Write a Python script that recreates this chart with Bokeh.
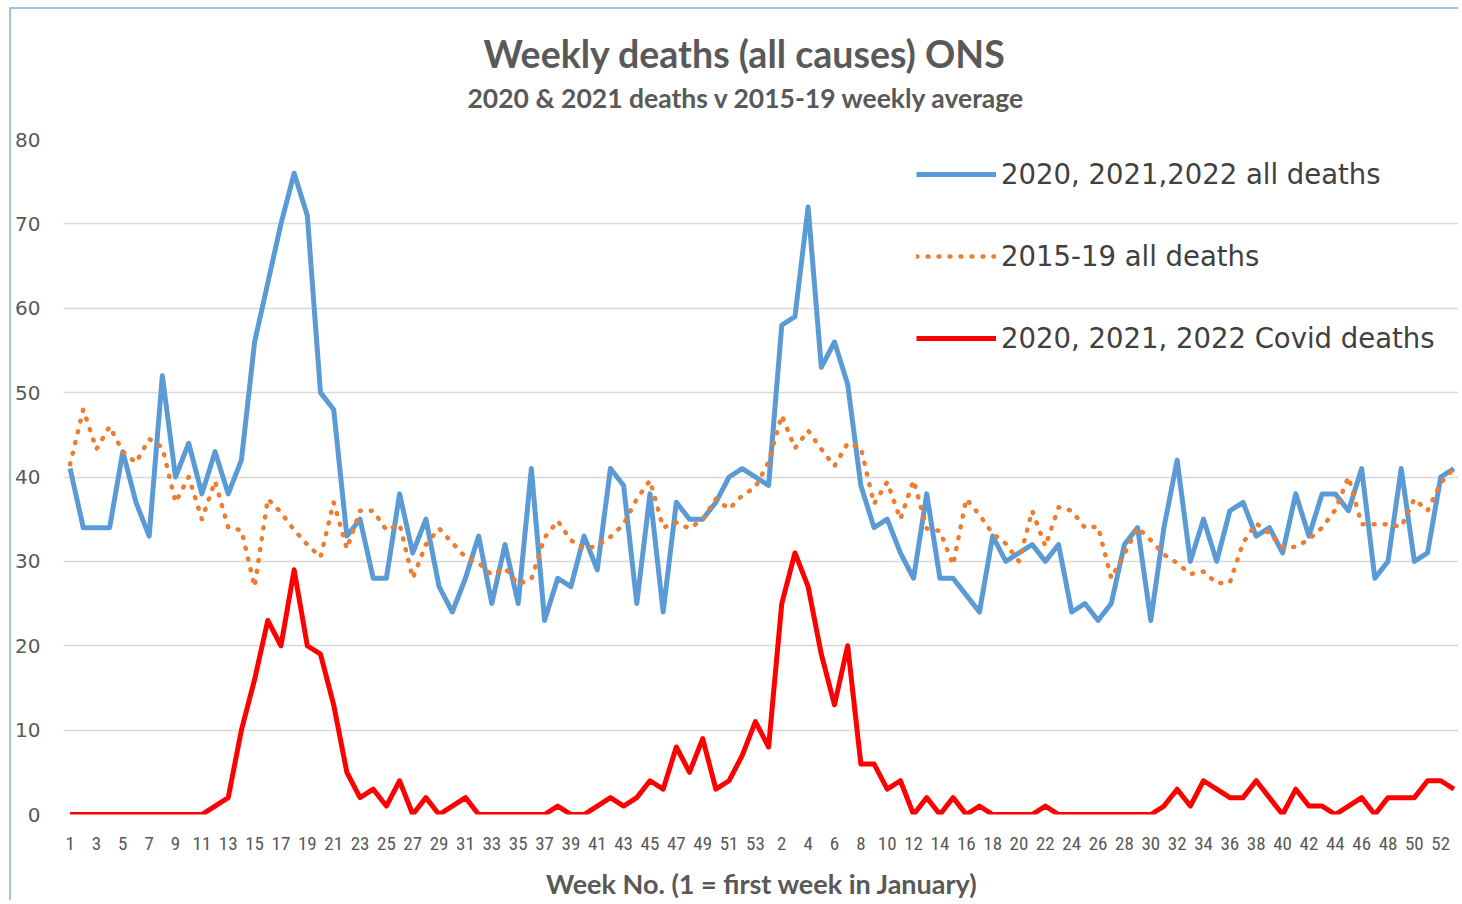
from bokeh.plotting import figure
from bokeh.models import Range1d, FixedTicker, Legend, LegendItem, ColumnDataSource, Title
from bokeh.embed import file_html
from bokeh.resources import INLINE

# ---- data ----
weeks_2020 = list(range(1, 54))
weeks_2021 = list(range(1, 53))
weeks_2022 = [1]

all_deaths_2020 = [41, 34, 34, 34, 43, 37, 33, 52, 40, 44,
                   38, 43, 38, 42, 56, 63, 70, 76, 71, 50,
                   48, 33, 35, 28, 28, 38, 31, 35, 27, 24,
                   28, 33, 25, 32, 25, 41, 23, 28, 27, 33,
                   29, 41, 39, 25, 38, 24, 37, 35, 35, 37,
                   40, 41, 40]
all_deaths_2021 = [39, 58, 59, 72, 53, 56, 51, 39, 34, 35,
                   31, 28, 38, 28, 28, 26, 24, 33, 30, 31,
                   32, 30, 32, 24, 25, 23, 25, 32, 34, 23,
                   34, 42, 30, 35, 30, 36, 37, 33, 34, 31,
                   38, 33, 38, 38, 36, 41, 28, 30, 41, 30,
                   31, 40]
all_deaths_2022 = [41]

avg_2015_19_vs_2020 = [41.5, 48, 43.3, 46, 43, 41.7, 44.5, 43.5, 37, 40,
                       35, 39.5, 34, 33.7, 27, 37.4, 35.8, 33.7, 32, 30.5,
                       37, 31.5, 36, 36, 33.7, 34.4, 28, 32, 33.9, 32.2,
                       30.5, 29.8, 28.4, 29.2, 27.3, 27.9, 32.8, 34.8, 32.5, 31.5,
                       31.8, 32.9, 34.4, 37.4, 39.6, 34, 34.6, 33.9, 35, 37.4,
                       36.2, 37.8, 38.8]
avg_2015_19_vs_2021 = [41.8, 47.3, 43.4, 45.5, 43.3, 41.3, 44, 43.5, 36.8, 39.4,
                       35, 39.6, 33.9, 33.6, 29.6, 37.4, 35.5, 33.3, 32.1, 30,
                       36, 31.8, 36.4, 36, 34, 34.1, 28, 30.9, 34, 32.5,
                       30.8, 29.8, 28.5, 28.8, 27.4, 27.5, 32.2, 34.5, 33.3, 31.7,
                       31.7, 32.6, 34, 36.1, 40, 34.4, 34.4, 34.4, 34.1, 37.4,
                       36, 39.3]
avg_2015_19_vs_2022 = [41]

covid_2020 = [0, 0, 0, 0, 0, 0, 0, 0, 0, 0,
              0, 1, 2, 10, 16, 23, 20, 29, 20, 19,
              13, 5, 2, 3, 1, 4, 0, 2, 0, 1,
              2, 0, 0, 0, 0, 0, 0, 1, 0, 0,
              1, 2, 1, 2, 4, 3, 8, 5, 9, 3,
              4, 7, 11]
covid_2021 = [8, 25, 31, 27, 19, 13, 20, 6, 6, 3,
              4, 0, 2, 0, 2, 0, 1, 0, 0, 0,
              0, 1, 0, 0, 0, 0, 0, 0, 0, 0,
              1, 3, 1, 4, 3, 2, 2, 4, 2, 0,
              3, 1, 1, 0, 1, 2, 0, 2, 2, 2,
              4, 4]
covid_2022 = [3]

series_names = ["2020, 2021,2022 all deaths", "2015-19 all deaths", "2020, 2021, 2022 Covid deaths"]
title_text = "Weekly deaths (all causes) ONS"
subtitle_text = "2020 & 2021 deaths v 2015-19 weekly average"
x_title = "Week No. (1 = first week in January)"

# ---- build table ----
week_labels = [str(w) for w in weeks_2020 + weeks_2021 + weeks_2022]
xs = list(range(len(week_labels)))
src = ColumnDataSource(dict(
    x=xs,
    all_deaths=all_deaths_2020 + all_deaths_2021 + all_deaths_2022,
    avg=avg_2015_19_vs_2020 + avg_2015_19_vs_2021 + avg_2015_19_vs_2022,
    covid=covid_2020 + covid_2021 + covid_2022,
))

GREY = "#595959"

p = figure(width=1449, height=893, output_backend="svg", toolbar_location=None,
           title_location=None,
           x_range=Range1d(-0.5, len(xs) - 0.5), y_range=Range1d(0, 80),
           min_border_left=52, min_border_right=0, min_border_top=130, min_border_bottom=87)
p.outline_line_color = None
p.background_fill_color = "white"
p.border_fill_color = "white"
p.styles = {"margin": "7px 0px 0px 9px",
            "border-top": "2px solid #9dc3e6", "border-left": "2px solid #9dc3e6"}

p.xgrid.visible = False
p.ygrid.grid_line_color = "#d9d9d9"
p.ygrid.grid_line_width = 1.5

p.yaxis.ticker = FixedTicker(ticks=[0, 10, 20, 30, 40, 50, 60, 70, 80])
p.yaxis.axis_line_color = None
p.yaxis.major_tick_line_color = None
p.yaxis.minor_tick_line_color = None
p.yaxis.major_tick_in = 0
p.yaxis.major_tick_out = 0
p.yaxis.major_label_standoff = 23
p.yaxis.major_label_text_font = "DejaVu Sans"
p.yaxis.major_label_text_font_size = "20px"
p.yaxis.major_label_text_color = GREY

tick_idx = xs[::2]
p.xaxis.ticker = FixedTicker(ticks=tick_idx)
p.xaxis.major_label_overrides = {i: week_labels[i] for i in tick_idx}
p.xaxis.axis_line_color = None
p.xaxis.major_tick_line_color = None
p.xaxis.minor_tick_line_color = None
p.xaxis.major_tick_in = 0
p.xaxis.major_tick_out = 0
p.xaxis.major_label_standoff = 22
p.xaxis.major_label_text_font = "Roboto Condensed"
p.xaxis.major_label_text_font_size = "19px"
p.xaxis.major_label_text_color = GREY
p.xaxis.axis_label = x_title
p.xaxis.axis_label_standoff = 14
p.xaxis.axis_label_text_font = "Lato"
p.xaxis.axis_label_text_font_style = "bold"
p.xaxis.axis_label_text_font_size = "27px"
p.xaxis.axis_label_text_color = GREY

r_blue = p.line("x", "all_deaths", source=src, line_color="#5B9BD5", line_width=5, line_join="round")
r_orange = p.line("x", "avg", source=src, line_color="#ED7D31", line_width=4.5,
                  line_dash="1 10", line_cap="round", line_join="round")
r_red = p.line("x", "covid", source=src, line_color="#FF0000", line_width=5, line_join="round")

legend = Legend(items=[LegendItem(label=series_names[0], renderers=[r_blue]),
                       LegendItem(label=series_names[1], renderers=[r_orange]),
                       LegendItem(label=series_names[2], renderers=[r_red])],
                location=(853, 456), orientation="vertical",
                glyph_width=80, glyph_height=40, label_standoff=5, spacing=42,
                padding=0, margin=0, border_line_color=None, background_fill_alpha=0,
                label_text_font="DejaVu Sans", label_text_font_size="27.5px",
                label_text_color="#404040", label_text_baseline="middle")
p.add_layout(legend)

# subtitle first (closest to the plot), then the main title above it
p.add_layout(Title(text=subtitle_text, align="left", offset=404, standoff=52,
                   text_font="Lato", text_font_style="bold",
                   text_font_size="26.5px", text_color=GREY), "above")
p.add_layout(Title(text=title_text, align="left", offset=420, standoff=-44,
                   text_font="Lato", text_font_style="bold",
                   text_font_size="37.5px", text_color=GREY), "above")

open("out.html", "w").write(file_html(p, INLINE))
